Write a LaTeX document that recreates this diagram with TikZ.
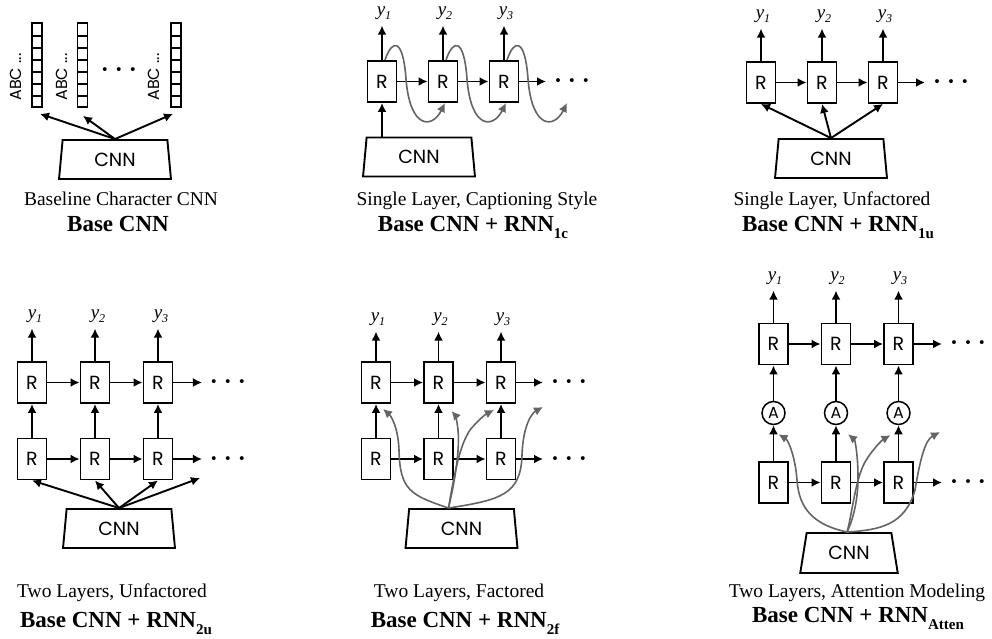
\documentclass[tikz,border=0pt]{standalone}
\usepackage{fontspec}
\setmainfont{Liberation Serif}
\newfontfamily\geofont{Poppins}
\usetikzlibrary{arrows.meta,shapes.geometric}

\definecolor{feedgray}{RGB}{100,100,100}

\newcommand{\yout}[1]{\fontsize{19}{19}\selectfont
  \textit{y}\raisebox{-4pt}{\fontsize{12}{12}\selectfont\textit{#1}}}
\newcommand{\modelname}[1]{\fontsize{23}{23}\selectfont
  \textbf{Base CNN + RNN\raisebox{-7pt}{\fontsize{15}{15}\selectfont #1}}}
\newcommand{\moredots}{\textbf{·\kern6pt·\kern6pt·}}

\begin{document}
\begin{tikzpicture}[x=1pt,y=-1pt,>={Latex[length=9pt,width=9pt]},
                    line width=1.9pt,node distance=61pt]

  \tikzstyle{rnn}=[rectangle,draw,minimum width=29pt,minimum height=41pt,
                   inner sep=0pt,font=\geofont\fontsize{19}{19}\selectfont]
  \tikzstyle{att}=[circle,draw,minimum size=23pt,inner sep=0pt,line width=1.5pt,
                   font=\geofont\fontsize{16}{16}\selectfont]
  \tikzstyle{cnn}=[trapezium,draw,trapezium left angle=84,trapezium right angle=84,
                   trapezium stretches=true,minimum width=112pt,minimum height=39pt,
                   inner sep=0pt,font=\geofont\fontsize{19}{19}\selectfont]
  \tikzstyle{vec}=[rectangle,draw,minimum width=10pt,minimum height=84pt,
                   inner sep=0pt,line width=1.7pt]
  \tikzstyle{chars}=[rotate=90,inner sep=0pt,font=\geofont\fontsize{16}{16}\selectfont]
  \tikzstyle{outlab}=[inner sep=0pt,outer sep=6pt,anchor=base]
  \tikzstyle{etc}=[inner sep=0pt,outer sep=8pt,anchor=base,
                   font=\fontsize{24}{24}\selectfont]
  \tikzstyle{capline}=[anchor=base,inner sep=0pt,font=\fontsize{19.5}{19.5}\selectfont]
  \tikzstyle{capbold}=[anchor=base,inner sep=0pt]
  \tikzstyle{feed}=[->,draw=feedgray,line width=1.6pt]

  \useasboundingbox (0,0) rectangle (992,639);

  % baseline character CNN
  \node[vec] (v1) at (37,65) {};
  \node[vec] (v2) at (82.5,65) {};
  \node[vec] (v3) at (176,65) {};
  \foreach \v in {v1,v2,v3}
    \foreach \k in {1,...,6}
      \draw[line width=1.4pt] ([yshift=\k*12pt]\v.south west) -- ([yshift=\k*12pt]\v.south east);
  \node[chars] (abc1) at (16,77) {ABC ...};
  \node[chars] (abc2) at (61.5,77) {ABC ...};
  \node[chars] (abc3) at (153.5,77) {ABC ...};
  \node[etc] (d1) at (119,78) {\moredots};
  \node[cnn] (cnn1) at (115,159.5) {CNN};
  \draw[->] (cnn1.north) -- ([shift={(3,6)}]v1.south);
  \draw[->] (cnn1.north) -- ([shift={(0.5,8)}]v2.south);
  \draw[->] (cnn1.north) -- ([shift={(-3,6)}]v3.south);
  \node[capline] (t1) at (121,205) {Baseline Character CNN};
  \node[capbold] (m1) at (118,231) {\fontsize{23}{23}\selectfont\textbf{Base CNN}};

  % single layer, captioning style
  \node[rnn] (cr1) at (382,81.5) {R};
  \node[rnn] (cr2) [right of=cr1] {R};
  \node[rnn] (cr3) [right of=cr2] {R};
  \node[outlab] (cy1) at (384,15.5) {\yout{1}};
  \node[outlab] (cy2) at (445,15.5) {\yout{2}};
  \node[outlab] (cy3) at (506,15.5) {\yout{3}};
  \node[etc] (d2) at (572,88.5) {\moredots};
  \foreach \i in {1,2,3}
    \draw[->] (cr\i) -- (cr\i |- cy\i.south);
  \path[->] (cr1) edge (cr2)
            (cr2) edge (cr3);
  \draw[->] (cr3) -- (cr3 -| d2.west);
  \node[cnn] (cnn2) at (419,157) {CNN};
  \draw[->] (cnn2.north -| cr1) -- (cr1);
  \foreach \s in {cr1,cr2,cr3}
    \draw[feed] ([xshift=3pt]\s.north) .. controls +(7,-21) and +(-3,-42) .. ++(21,19)
                .. controls +(4,50) and +(-13,26) .. ++(39,24);
  \node[capline] (t2) at (477,205) {Single Layer, Captioning Style};
  \node[capbold] (m2) at (473,231) {\modelname{1c}};

  % single layer, unfactored
  \node[rnn] (sr1) at (761,82.5) {R};
  \node[rnn] (sr2) [right of=sr1] {R};
  \node[rnn] (sr3) [right of=sr2] {R};
  \node[outlab] (sy1) at (763,18.5) {\yout{1}};
  \node[outlab] (sy2) at (824,18.5) {\yout{2}};
  \node[outlab] (sy3) at (885,18.5) {\yout{3}};
  \node[etc] (d3) at (951,89.5) {\moredots};
  \foreach \i in {1,2,3}
    \draw[->] (sr\i) -- (sr\i |- sy\i.south);
  \path[->] (sr1) edge (sr2)
            (sr2) edge (sr3);
  \draw[->] (sr3) -- (sr3 -| d3.west);
  \node[cnn] (cnn3) at (831,158.5) {CNN};
  \foreach \i in {1,2,3}
    \draw[->] (cnn3.north) -- (sr\i.south);
  \node[capline] (t3) at (832,205) {Single Layer, Unfactored};
  \node[capbold] (m3) at (838,231) {\modelname{1u}};

  % two layers, unfactored
  \begin{scope}[node distance=63pt]
  \node[rnn] (u1) at (32,382.5) {R};
  \node[rnn] (u2) [right of=u1] {R};
  \node[rnn] (u3) [right of=u2] {R};
  \node[rnn] (l1) at (32,459) {R};
  \node[rnn] (l2) [right of=l1] {R};
  \node[rnn] (l3) [right of=l2] {R};
  \node[outlab] (uy1) at (35,318.5) {\yout{1}};
  \node[outlab] (uy2) at (98,318.5) {\yout{2}};
  \node[outlab] (uy3) at (161,318.5) {\yout{3}};
  \node[etc] (d4) at (228,389.5) {\moredots};
  \node[etc] (d5) at (228,466.5) {\moredots};
  \foreach \i in {1,2,3} {
    \draw[->] (u\i) -- (u\i |- uy\i.south);
    \draw[->] (l\i) -- (u\i);
  }
  \path[->] (u1) edge (u2)
            (u2) edge (u3)
            (l1) edge (l2)
            (l2) edge (l3);
  \draw[->] (u3) -- (u3 -| d4.west);
  \draw[->] (l3) -- (l3 -| d5.west);
  \node[cnn] (cnn4) at (119,528.5) {CNN};
  \coordinate (end4) at (200,478);
  \foreach \t in {l1.south,l2.south,l3.south,end4}
    \draw[->] (cnn4.north) -- (\t);
  \end{scope}
  \node[capline] (t4) at (112,597) {Two Layers, Unfactored};
  \node[capbold] (m4) at (116,627) {\modelname{2u}};

  % two layers, factored
  \begin{scope}[node distance=62.5pt]
  \node[rnn] (fu1) at (376,382.5) {R};
  \node[rnn] (fu2) [right of=fu1] {R};
  \node[rnn] (fu3) [right of=fu2] {R};
  \node[rnn] (fl1) at (376,459) {R};
  \node[rnn] (fl2) [right of=fl1] {R};
  \node[rnn] (fl3) [right of=fl2] {R};
  \node[outlab] (fy1) at (378,321.5) {\yout{1}};
  \node[outlab] (fy2) at (440.5,321.5) {\yout{2}};
  \node[outlab] (fy3) at (503,321.5) {\yout{3}};
  \node[etc] (d6) at (569,389.5) {\moredots};
  \node[etc] (d7) at (569,466.5) {\moredots};
  \foreach \i in {1,2,3} {
    \draw[->] (fu\i) -- (fu\i |- fy\i.south);
    \draw[->] (fl\i) -- (fu\i);
  }
  \path[->] (fu1) edge (fu2)
            (fu2) edge (fu3)
            (fl1) edge (fl2)
            (fl2) edge (fl3);
  \draw[->] (fu3) -- (fu3 -| d6.west);
  \draw[->] (fl3) -- (fl3 -| d7.west);
  \node[cnn] (cnn5) at (461.5,528.5) {CNN};
  \coordinate (hub5) at ([xshift=-13pt]cnn5.north);
  \coordinate (end5) at (543,407);
  \draw[feed] (hub5) .. controls (410,495) and (400,490) .. (399,450)
              .. controls (398,425) and (390,415) .. ([shift={(7,5)}]fu1.south);
  \draw[feed] (hub5) .. controls (455,480) and (460,450) .. (458,430)
              .. controls (457,420) and (455,415) .. ([shift={(13,7)}]fu2.south);
  \draw[feed] (hub5) .. controls (455,470) and (460,445) .. (470,430)
              .. controls (478,420) and (486,414) .. ([shift={(-7,6)}]fu3.south);
  \draw[feed] (hub5) .. controls (500,500) and (521,495) .. (522,455)
              .. controls (523,425) and (532,413) .. (end5);
  \end{scope}
  \node[capline] (t5) at (459,597) {Two Layers, Factored};
  \node[capbold] (m5) at (465,627) {\modelname{2f}};

  % two layers, attention modeling
  \begin{scope}[node distance=62.5pt]
  \node[rnn] (au1) at (773.5,344) {R};
  \node[rnn] (au2) [right of=au1] {R};
  \node[rnn] (au3) [right of=au2] {R};
  \node[att] (at1) at (773.5,413) {A};
  \node[att] (at2) [right of=at1] {A};
  \node[att] (at3) [right of=at2] {A};
  \node[rnn] (al1) at (773.5,482.5) {R};
  \node[rnn] (al2) [right of=al1] {R};
  \node[rnn] (al3) [right of=al2] {R};
  \node[outlab] (ay1) at (775,280.5) {\yout{1}};
  \node[outlab] (ay2) at (837.5,280.5) {\yout{2}};
  \node[outlab] (ay3) at (900,280.5) {\yout{3}};
  \node[etc] (d8) at (968,350.5) {\moredots};
  \node[etc] (d9) at (968,489.5) {\moredots};
  \foreach \i in {1,2,3} {
    \draw[->] (au\i) -- (au\i |- ay\i.south);
    \draw[->] (at\i) -- (au\i);
    \draw[->] (al\i) -- (at\i);
  }
  \path[->] (au1) edge (au2)
            (au2) edge (au3)
            (al1) edge (al2)
            (al2) edge (al3);
  \draw[->] (au3) -- (au3 -| d8.west);
  \draw[->] (al3) -- (al3 -| d9.west);
  \node[cnn,minimum width=98pt,minimum height=40pt,
        trapezium left angle=77,trapezium right angle=77] (cnn6) at (849,553) {CNN};
  \coordinate (hub6) at ([xshift=-2pt]cnn6.north);
  \coordinate (end6) at (940,432);
  \draw[feed] (hub6) .. controls (815,525) and (799,510) .. (797,480)
              .. controls (795,455) and (788,440) .. ([shift={(5,9)}]at1.south);
  \draw[feed] (hub6) .. controls (853,520) and (858,500) .. (858,478)
              .. controls (858,455) and (855,440) .. ([shift={(12,9)}]at2.south);
  \draw[feed] (hub6) .. controls (852,515) and (855,480) .. (865,462)
              .. controls (872,450) and (882,440) .. ([shift={(-8,10)}]at3.south);
  \draw[feed] (hub6) .. controls (880,530) and (905,525) .. (915,490)
              .. controls (920,460) and (925,440) .. (end6);
  \end{scope}
  \node[capline] (t6) at (857,597) {Two Layers, Attention Modeling};
  \node[capbold] (m6) at (858,622) {\modelname{Atten}};
\end{tikzpicture}
\end{document}
